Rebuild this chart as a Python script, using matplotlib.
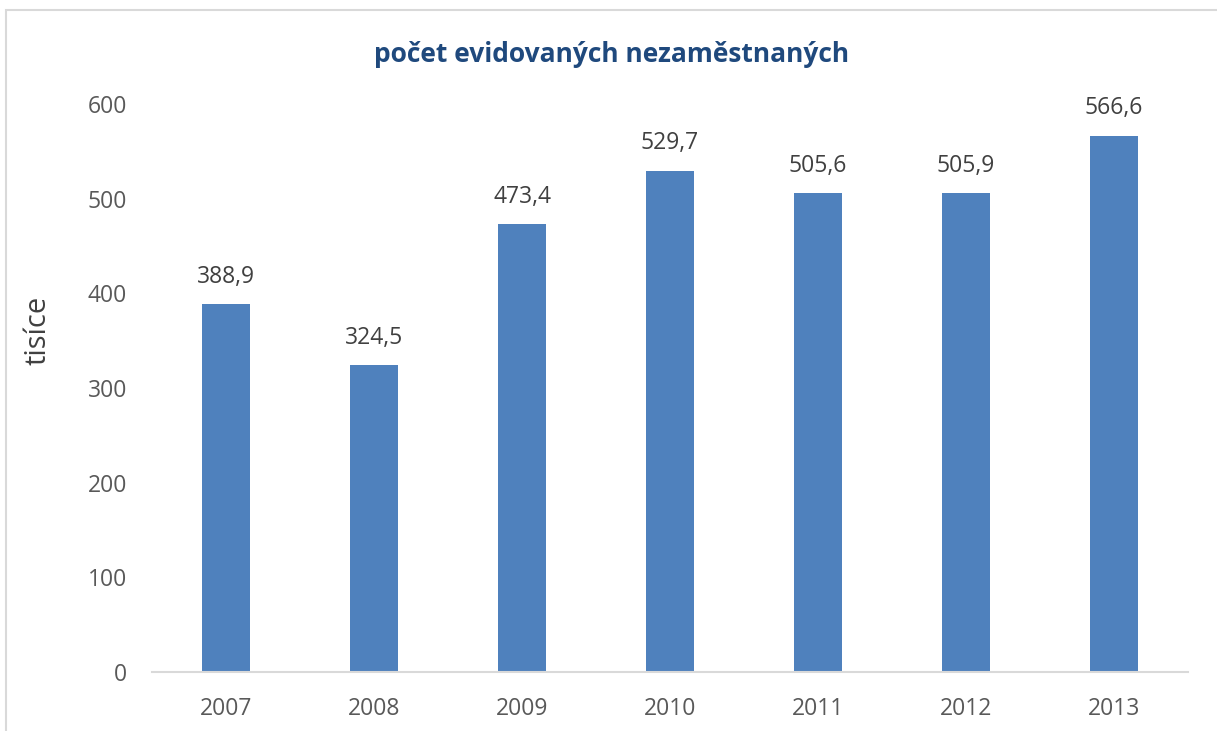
import matplotlib.pyplot as plt
from matplotlib.patches import Rectangle

years = ["2007", "2008", "2009", "2010", "2011", "2012", "2013"]
values = [388.9, 324.5, 473.4, 529.7, 505.6, 505.9, 566.6]
labels = ["388,9", "324,5", "473,4", "529,7", "505,6", "505,9", "566,6"]

plt.rcParams['font.family'] = ['Open Sans', 'DejaVu Sans']

fig = plt.figure(figsize=(12.17, 7.31), dpi=100)
ax = fig.add_axes([0.1249, 0.0807, 0.8513, 0.777])

# frame around the chart area, as in the office export
fig.patches.append(Rectangle((6 / 1217, -0.1), 1.2, 1 - 10 / 731 + 0.1,
                             transform=fig.transFigure, fill=False,
                             edgecolor='#d9d9d9', linewidth=1.5))

x = range(len(years))
ax.bar(x, values, width=0.32, color='#4f81bd')
for i, v in enumerate(values):
    ax.text(i, v + 16, labels[i], ha='center', va='bottom', fontsize=16.5, color='#404040')

ax.set_xlim(-0.5, len(years) - 0.5)
ax.set_ylim(0, 600)
ax.set_yticks(range(0, 601, 100))
ax.set_xticks(list(x))
ax.set_xticklabels(years)
ax.tick_params(axis='both', length=0, labelsize=16.5, labelcolor='#595959')
ax.tick_params(axis='y', pad=18)
ax.tick_params(axis='x', pad=18)
for s in ['top', 'right', 'left']:
    ax.spines[s].set_visible(False)
ax.spines['bottom'].set_color('#d9d9d9')
ax.spines['bottom'].set_linewidth(1.5)

fig.text(38 / 1217, 1 - 330 / 731, "tisíce", rotation=90, ha='center', va='center',
         fontsize=21, color='#404040')
fig.text(612 / 1217, 1 - 55 / 731, "počet evidovaných nezaměstnaných", ha='center', va='center',
         fontsize=19, fontweight='bold', color='#1f497d')

fig.savefig("out.png")
